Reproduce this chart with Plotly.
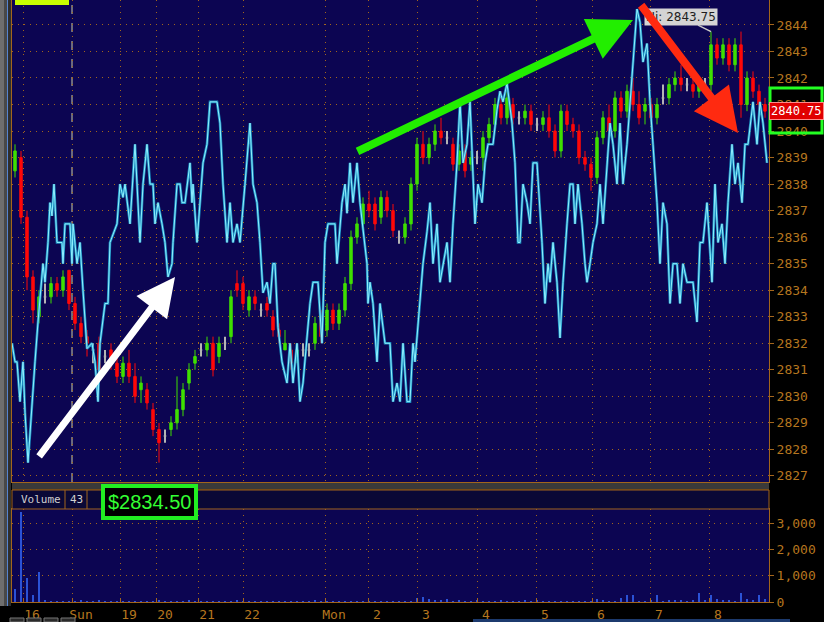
import numpy as np
import plotly.graph_objects as go

# ---------------- data ----------------
opens = [2838.5, 2839.0, 2836.75, 2834.5, 2833.0, 2833.75, 2833.75, 2834.25, 2834.0, 2834.75,
         2833.5, 2832.75, 2832.25, 2831.75, 2832.0, 2831.5, 2831.75, 2831.25, 2830.75, 2831.25,
         2830.75, 2830.25, 2830.25, 2829.5, 2828.75, 2828.5, 2828.75, 2829.0, 2829.5, 2830.5,
         2831.25, 2831.75, 2831.75, 2832.0, 2831.5, 2832.0, 2832.25, 2834.25, 2834.25, 2833.25,
         2833.75, 2833.25, 2833.5, 2833.0, 2832.5, 2831.75, 2831.75, 2831.5, 2831.75, 2831.75,
         2832.0, 2833.0, 2832.5, 2833.25, 2832.75, 2833.25, 2834.25, 2836.0, 2836.5, 2837.25,
         2837.25, 2836.75, 2837.5, 2837.0, 2836.0, 2836.0, 2836.5, 2838.0, 2839.5, 2839.0,
         2839.5, 2840.0, 2839.75, 2839.5, 2838.75, 2839.25, 2838.75, 2839.0, 2839.0, 2839.75,
         2840.25, 2841.0, 2840.5, 2841.0, 2840.5, 2840.5, 2840.75, 2840.25, 2840.25, 2840.5,
         2840.0, 2839.25, 2840.75, 2840.25, 2840.0, 2839.0, 2838.75, 2838.25, 2839.75, 2840.5,
         2840.0, 2841.25, 2840.75, 2841.5, 2841.0, 2840.75, 2841.0, 2840.5, 2841.25, 2841.25,
         2841.75, 2842.0, 2841.75, 2841.75, 2841.5, 2841.75, 2841.75, 2843.25, 2842.75, 2843.25,
         2842.5, 2843.25, 2841.0, 2842.0, 2841.5, 2841.0]
highs = [2839.5, 2839.25, 2837.0, 2834.75, 2834.0, 2834.25, 2834.5, 2834.5, 2834.75, 2834.75,
         2833.75, 2833.0, 2832.5, 2832.0, 2832.25, 2831.75, 2832.0, 2831.5, 2831.5, 2831.75,
         2831.25, 2830.75, 2830.5, 2829.75, 2829.0, 2828.75, 2829.25, 2830.75, 2830.5, 2831.25,
         2831.75, 2832.0, 2832.25, 2832.25, 2832.25, 2832.25, 2834.0, 2834.75, 2834.5, 2834.0,
         2834.0, 2833.5, 2833.75, 2833.25, 2832.75, 2832.5, 2832.0, 2832.0, 2832.0, 2832.0,
         2833.0, 2833.25, 2833.5, 2833.5, 2833.5, 2834.5, 2836.25, 2836.75, 2837.5, 2837.75,
         2837.5, 2837.75, 2837.75, 2837.25, 2836.25, 2836.75, 2838.25, 2839.75, 2840.0, 2839.75,
         2840.25, 2840.5, 2840.0, 2839.75, 2839.5, 2839.5, 2839.25, 2839.25, 2840.0, 2840.5,
         2841.25, 2841.5, 2841.5, 2841.25, 2840.75, 2841.0, 2841.0, 2840.5, 2840.75, 2841.0,
         2840.25, 2841.0, 2841.0, 2840.5, 2840.25, 2839.25, 2839.0, 2840.0, 2840.75, 2841.0,
         2841.5, 2841.5, 2841.75, 2842.0, 2841.5, 2841.25, 2841.25, 2841.25, 2841.75, 2842.0,
         2842.25, 2842.5, 2842.0, 2842.25, 2842.0, 2842.0, 2843.75, 2843.5, 2843.5, 2843.5,
         2843.5, 2843.75, 2842.25, 2842.25, 2841.75, 2841.25]
lows = [2838.25, 2836.5, 2834.0, 2832.75, 2832.75, 2833.5, 2833.5, 2833.75, 2833.75, 2833.25,
        2832.5, 2832.0, 2831.5, 2831.25, 2830.75, 2831.25, 2831.0, 2830.5, 2830.5, 2830.5,
        2829.75, 2829.75, 2829.5, 2828.5, 2827.5, 2828.25, 2828.5, 2828.75, 2829.25, 2830.25,
        2831.0, 2831.5, 2831.5, 2830.75, 2831.25, 2831.75, 2832.0, 2833.75, 2833.25, 2833.0,
        2833.25, 2833.0, 2833.0, 2832.25, 2832.0, 2831.75, 2831.0, 2831.25, 2831.5, 2831.5,
        2831.75, 2832.0, 2832.25, 2832.5, 2832.5, 2833.0, 2834.0, 2835.75, 2836.25, 2836.75,
        2836.25, 2836.5, 2836.75, 2836.0, 2835.75, 2835.75, 2836.25, 2837.75, 2838.75, 2838.75,
        2839.25, 2839.5, 2839.5, 2838.5, 2838.5, 2838.25, 2838.5, 2838.75, 2838.5, 2839.5,
        2840.0, 2840.25, 2840.25, 2840.25, 2840.25, 2840.25, 2840.0, 2840.0, 2840.0, 2839.75,
        2839.0, 2839.0, 2840.0, 2839.75, 2838.75, 2838.5, 2837.75, 2838.0, 2839.5, 2839.75,
        2839.75, 2840.5, 2840.5, 2840.75, 2840.25, 2840.25, 2840.25, 2840.25, 2841.0, 2841.0,
        2841.5, 2841.5, 2841.5, 2841.25, 2841.25, 2841.5, 2841.5, 2842.5, 2842.5, 2842.25,
        2842.25, 2840.5, 2840.75, 2841.25, 2840.75, 2840.5]
closes = [2839.25, 2836.75, 2834.5, 2833.25, 2833.75, 2833.75, 2834.25, 2834.0, 2834.5, 2833.5,
          2832.75, 2832.25, 2832.0, 2831.75, 2831.0, 2831.5, 2831.25, 2830.75, 2831.25, 2830.75,
          2830.0, 2830.5, 2829.75, 2828.75, 2828.25, 2828.5, 2829.0, 2829.5, 2830.25, 2831.0,
          2831.5, 2831.75, 2832.0, 2831.0, 2832.0, 2832.0, 2833.75, 2834.0, 2833.5, 2833.75,
          2833.5, 2833.25, 2833.25, 2832.5, 2832.25, 2832.0, 2831.25, 2831.75, 2831.75, 2831.75,
          2832.75, 2832.25, 2833.25, 2832.75, 2833.25, 2834.25, 2836.0, 2836.5, 2837.25, 2837.0,
          2836.5, 2837.5, 2837.0, 2836.25, 2836.0, 2836.5, 2838.0, 2839.5, 2839.0, 2839.5,
          2840.0, 2839.75, 2839.75, 2838.75, 2839.25, 2838.5, 2839.0, 2839.0, 2839.75, 2840.25,
          2841.0, 2840.5, 2841.25, 2840.5, 2840.5, 2840.75, 2840.25, 2840.25, 2840.5, 2840.0,
          2839.25, 2840.75, 2840.25, 2840.0, 2839.0, 2838.75, 2838.25, 2839.75, 2840.5, 2840.0,
          2841.25, 2840.75, 2841.5, 2841.0, 2840.5, 2841.0, 2840.5, 2841.0, 2841.25, 2841.75,
          2842.0, 2841.75, 2841.75, 2841.5, 2841.75, 2841.75, 2843.25, 2842.75, 2843.25, 2842.5,
          2843.25, 2841.0, 2842.0, 2841.5, 2841.0, 2840.75]
volume = [500, 3400, 900, 250, 1150, 40, 20, 15, 10, 30, 20, 60, 15, 10, 50, 10, 10, 20, 10, 10,
          15, 10, 15, 30, 70, 20, 15, 10, 15, 40, 10, 10, 10, 20, 10, 10, 15, 60, 10, 10,
          10, 15, 10, 10, 10, 10, 15, 10, 10, 10, 60, 10, 10, 20, 10, 20, 10, 10, 10, 10,
          10, 10, 10, 10, 10, 10, 20, 150, 200, 100, 60, 80, 100, 30, 80, 10, 10, 60, 10, 10,
          10, 40, 10, 10, 10, 60, 10, 40, 10, 10, 10, 10, 10, 10, 10, 30, 10, 120, 40, 10,
          10, 150, 250, 250, 10, 20, 80, 250, 20, 60, 40, 80, 30, 60, 330, 40, 250, 100, 60, 80,
          30, 330, 100, 50, 250, 100]

# oscillator overlay (bar time, value)
osc_t = [0, 3, 5, 8, 11, 13, 16, 20, 23, 26, 31, 33, 36, 38, 40, 42, 45, 50, 51, 53,
         58, 60, 61, 65, 68, 71, 75, 80, 83, 86, 88, 93, 96, 98, 105, 108, 111, 113, 118, 123,
         128, 131, 135, 138, 141, 143, 146, 150, 153, 156, 160, 161, 165, 168, 170, 173, 175, 178, 180, 181,
         185, 188, 191, 195, 198, 205, 208, 211, 215, 218, 221, 225, 228, 233, 238, 241, 245, 248, 251, 255,
         258, 261, 263, 266, 270, 275, 278, 281, 285, 288, 291, 298, 301, 306, 310, 313, 316, 323, 325, 330,
         333, 335, 338, 341, 345, 348, 355, 356, 358, 361, 365, 368, 373, 378, 381, 385, 388, 391, 395, 398,
         401, 403, 406, 411, 415, 418, 421, 425, 428, 431, 435, 438, 441, 445, 448, 451, 455, 458, 463, 466,
         470, 473, 476, 481, 485, 488, 491, 495, 500, 503, 506, 508, 511, 515, 518, 521, 525, 530, 533, 536,
         538, 541, 545, 548, 551, 555, 558, 561, 563, 566, 570, 573, 575, 578, 581, 585, 588, 591, 595, 598,
         601, 605, 608, 611, 615, 618, 621, 625, 628, 631, 635, 638, 641, 645, 648, 651, 655, 658, 661, 665,
         668, 671, 675, 678, 681, 685, 688, 691, 695, 700, 703, 706, 710, 713, 716, 720, 723, 726, 730, 733,
         736, 741, 745, 748, 751, 755]
osc_val = [2832.0, 2831.3, 2831.3, 2829.8, 2831.3, 2829.4, 2827.5, 2829.8, 2831.3, 2832.8,
           2835.0, 2834.3, 2835.8, 2837.3, 2836.8, 2838.0, 2835.8, 2835.8, 2835.0, 2836.5,
           2836.5, 2835.0, 2836.5, 2835.0, 2835.8, 2834.0, 2831.8, 2832.0, 2831.3, 2829.8,
           2832.0, 2833.5, 2833.5, 2835.8, 2836.5, 2838.0, 2837.5, 2838.0, 2836.5, 2839.5,
           2835.8, 2838.0, 2839.5, 2838.0, 2838.0, 2836.5, 2837.3, 2836.5, 2835.8, 2834.5,
           2835.0, 2835.8, 2838.0, 2838.0, 2837.3, 2837.3, 2838.0, 2838.8, 2837.3, 2838.0,
           2835.8, 2837.3, 2838.8, 2839.5, 2841.1, 2841.1, 2840.3, 2838.0, 2835.8, 2837.3,
           2835.8, 2836.5, 2835.8, 2838.0, 2840.3, 2838.0, 2837.3, 2835.8, 2833.9, 2834.3,
           2833.5, 2835.0, 2835.0, 2832.6, 2831.3, 2830.5, 2832.0, 2830.5, 2832.0, 2829.8,
           2830.5, 2833.5, 2834.3, 2834.3, 2832.0, 2835.8, 2836.5, 2836.5, 2835.0, 2837.3,
           2838.0, 2836.9, 2838.8, 2837.3, 2838.8, 2837.3, 2835.0, 2833.5, 2834.3, 2833.5,
           2831.3, 2833.5, 2832.0, 2832.0, 2829.8, 2830.5, 2829.8, 2832.0, 2829.8, 2829.8,
           2832.0, 2831.3, 2832.8, 2835.0, 2836.2, 2837.3, 2835.0, 2836.5, 2834.3, 2835.0,
           2835.8, 2834.3, 2836.5, 2838.8, 2841.1, 2838.8, 2839.5, 2841.1, 2836.5, 2838.0,
           2837.3, 2838.8, 2839.5, 2839.5, 2840.8, 2841.5, 2841.1, 2841.8, 2840.3, 2838.8,
           2835.8, 2835.8, 2838.0, 2837.3, 2836.5, 2838.8, 2838.8, 2835.8, 2833.5, 2835.0,
           2834.3, 2835.8, 2834.3, 2832.2, 2834.3, 2836.5, 2838.0, 2838.0, 2836.5, 2838.0,
           2836.5, 2835.0, 2834.3, 2835.0, 2835.8, 2836.5, 2838.0, 2836.5, 2838.8, 2840.3,
           2839.5, 2838.0, 2840.3, 2838.0, 2839.5, 2841.1, 2842.6, 2844.6, 2844.1, 2842.6,
           2843.3, 2841.1, 2839.5, 2837.3, 2835.0, 2837.3, 2836.5, 2833.5, 2835.0, 2835.0,
           2833.5, 2835.0, 2834.3, 2834.3, 2834.3, 2832.8, 2835.8, 2835.8, 2837.3, 2834.3,
           2838.0, 2835.8, 2836.5, 2835.0, 2837.3, 2839.5, 2838.0, 2838.8, 2837.3, 2839.5,
           2839.5, 2841.1, 2839.5, 2841.1, 2840.3, 2838.8]

session_ticks = [11, 60, 108, 144, 186, 231, 313, 356, 405, 465, 524, 580, 638, 697]
session_labels = ["16", "Sun", "19", "20", "21", "22", "Mon", "2", "3", "4", "5", "6", "7", "8"]
price_ticks = list(range(2827, 2845))
vol_ticks = [0, 1000, 2000, 3000]
vol_labels = ["0", "1,000", "2,000", "3,000"]
last_price = 2840.75
session_high = 2843.75
cursor_price = "$2834.50"
vol_count = "43"

# ---------------- styling ----------------
W, H = 824, 622
ORANGE = "#a2651c"
LABEL = "#b5761f"
BG = "#0c0552"
MONO = "DejaVu Sans Mono"
GRIDDASH = "1px,5px"


def px(p):
    return p / W


def py(p):
    return 1 - p / H


candle_t = 3 + 6 * np.arange(len(opens))
doji = np.array([o == c for o, c in zip(opens, closes)])
o, h, l, c = map(np.array, (opens, highs, lows, closes))

fig = go.Figure()

fig.add_trace(go.Candlestick(
    x=candle_t[~doji], open=o[~doji], high=h[~doji], low=l[~doji], close=c[~doji],
    increasing=dict(line=dict(color="#3fe000", width=1), fillcolor="#3fe000"),
    decreasing=dict(line=dict(color="#ff0808", width=1), fillcolor="#ff0808"),
    whiskerwidth=0, showlegend=False, hoverinfo="skip", xaxis="x", yaxis="y"))
fig.add_trace(go.Candlestick(
    x=candle_t[doji], open=o[doji], high=h[doji], low=l[doji], close=c[doji],
    increasing=dict(line=dict(color="#b4b4b4", width=2), fillcolor="#b4b4b4"),
    decreasing=dict(line=dict(color="#b4b4b4", width=2), fillcolor="#b4b4b4"),
    whiskerwidth=0, showlegend=False, hoverinfo="skip", xaxis="x", yaxis="y"))

fig.add_trace(go.Scatter(x=osc_t, y=osc_val, mode="lines",
                         line=dict(color="#1d9ccc", width=2.6), opacity=0.9,
                         showlegend=False, hoverinfo="skip", xaxis="x", yaxis="y"))
fig.add_trace(go.Scatter(x=osc_t, y=osc_val, mode="lines",
                         line=dict(color="#8ff0ff", width=1),
                         showlegend=False, hoverinfo="skip", xaxis="x", yaxis="y"))

fig.add_trace(go.Bar(x=candle_t, y=volume, width=2, marker=dict(color="#2b52d6", line=dict(width=0)),
                     showlegend=False, hoverinfo="skip", xaxis="x2", yaxis="y2"))

xdom = [px(12), px(769)]
common_x = dict(domain=xdom, range=[0, 757], tickvals=session_ticks, showgrid=True,
                gridcolor=ORANGE, griddash=GRIDDASH, gridwidth=1, zeroline=False,
                showline=True, linecolor=ORANGE, mirror=True, fixedrange=True,
                automargin=False)

fig.update_layout(
    width=W, height=H, autosize=False,
    margin=dict(l=0, r=0, t=0, b=0, pad=0),
    paper_bgcolor="#000000", plot_bgcolor=BG,
    boxgap=0.42, bargap=0,
    font=dict(family=MONO, color=LABEL, size=13),
    xaxis=dict(**common_x, anchor="y", showticklabels=False, ticks="",
               rangeslider=dict(visible=False)),
    yaxis=dict(domain=[py(482), 1], range=[2826.77, 2844.94], side="right",
               tickvals=price_ticks, ticks="outside", ticklen=4, tickcolor=ORANGE,
               tickfont=dict(family=MONO, size=13, color=LABEL),
               showgrid=True, gridcolor=ORANGE, griddash=GRIDDASH, zeroline=False,
               showline=True, linecolor=ORANGE, mirror=True, fixedrange=True,
               automargin=False),
    xaxis2=dict(**common_x, anchor="y2", ticktext=session_labels, ticks="inside",
                ticklen=4, tickcolor=ORANGE, ticklabelshift=9,
                tickfont=dict(family=MONO, size=13, color=LABEL)),
    yaxis2=dict(domain=[py(602), py(509)], range=[0, 3532], side="right",
                tickvals=vol_ticks, ticktext=vol_labels, ticks="outside", ticklen=4,
                tickcolor=ORANGE, tickfont=dict(family=MONO, size=13, color=LABEL),
                showgrid=True, gridcolor=ORANGE, griddash=GRIDDASH, zeroline=False,
                showline=True, linecolor=ORANGE, mirror=True, fixedrange=True,
                automargin=False),
)

shapes = [
    # left window strip
    dict(type="rect", xref="paper", yref="paper", x0=0, x1=px(4), y0=py(606), y1=1,
         fillcolor="#6e6e6e", line=dict(width=0), layer="above"),
    dict(type="rect", xref="paper", yref="paper", x0=px(4), x1=px(7), y0=py(606), y1=1,
         fillcolor="#484848", line=dict(width=0), layer="above"),
    dict(type="rect", xref="paper", yref="paper", x0=px(7), x1=px(8), y0=py(606), y1=1,
         fillcolor="#5584d0", line=dict(width=0), layer="above"),
    dict(type="rect", xref="paper", yref="paper", x0=px(8), x1=px(11), y0=py(606), y1=1,
         fillcolor="#2e2e2e", line=dict(width=0), layer="above"),
    # separator between panels
    dict(type="rect", xref="paper", yref="paper", x0=px(12), x1=px(769), y0=py(489), y1=py(483),
         fillcolor="#3a3a3a", line=dict(width=0), layer="above"),
    dict(type="line", xref="paper", yref="paper", x0=px(12), x1=px(769), y0=py(490), y1=py(490),
         line=dict(color=ORANGE, width=1), layer="above"),
    # volume header strip
    dict(type="rect", xref="paper", yref="paper", x0=px(12), x1=px(769), y0=py(509), y1=py(490),
         fillcolor="#0a0836", line=dict(color=ORANGE, width=1), layer="above"),
    dict(type="line", xref="paper", yref="paper", x0=px(65), x1=px(65), y0=py(509), y1=py(490),
         line=dict(color=ORANGE, width=1), layer="above"),
    dict(type="line", xref="paper", yref="paper", x0=px(87), x1=px(87), y0=py(509), y1=py(490),
         line=dict(color=ORANGE, width=1), layer="above"),
    # top-left marker
    dict(type="rect", xref="paper", yref="paper", x0=px(15), x1=px(69), y0=py(5), y1=1,
         fillcolor="#c8ff00", line=dict(width=0), layer="above"),
    # session start dashed line
    dict(type="line", xref="x", yref="paper", x0=session_ticks[1], x1=session_ticks[1],
         y0=py(482), y1=1, line=dict(color="#8c8c8c", width=1.5, dash="dash"), layer="below"),
    # green frame around last price tag
    dict(type="rect", xref="paper", yref="paper", x0=px(770), x1=px(822), y0=py(133), y1=py(88),
         line=dict(color="#22ff22", width=3), layer="above"),
    # scrollbar
    dict(type="rect", xref="paper", yref="paper", x0=px(473), x1=px(790), y0=0, y1=py(619),
         fillcolor="#1c3a6e", line=dict(width=0), layer="above"),
]
for x0 in [10, 27, 44, 61]:
    shapes.append(dict(type="rect", xref="paper", yref="paper", x0=px(x0), x1=px(x0 + 14),
                       y0=0, y1=py(618), fillcolor="#2a2a2a",
                       line=dict(color="#777777", width=1), layer="above"))
fig.update_layout(shapes=shapes)

annotations = [
    dict(x=px(796), y=last_price, xref="paper", yref="y", text=f"{last_price:.2f}",
         xanchor="center", yanchor="middle",
         showarrow=False, bgcolor="#e10000", bordercolor="#ff8a8a", borderwidth=1, borderpad=1,
         font=dict(family=MONO, size=12, color="#ffffff")),
    dict(x=699, y=session_high, xref="x", yref="y", text=f"Hi: {session_high:.2f}",
         showarrow=True, ax=-30, ay=-15, arrowhead=0, arrowwidth=1.5, arrowcolor="#c8c8c8",
         bgcolor="#d4d4d4", borderpad=1, font=dict(family="DejaVu Sans", size=12, color="#1e1e1e")),
    dict(x=px(149), y=py(502), xref="paper", yref="paper", text=cursor_price, showarrow=False,
         xanchor="center", yanchor="middle",
         bgcolor="#000000", bordercolor="#22ee22", borderwidth=4, borderpad=3,
         font=dict(family="Liberation Sans", size=20, color="#33ff33")),
    dict(x=px(19), y=py(499), xref="paper", yref="paper", text="Volume", showarrow=False,
         xanchor="left", yanchor="middle", font=dict(family=MONO, size=11, color="#cfcfcf")),
    dict(x=px(68), y=py(499), xref="paper", yref="paper", text=vol_count, showarrow=False,
         xanchor="left", yanchor="middle", font=dict(family=MONO, size=11, color="#cfcfcf")),
    # trend arrows
    dict(x=163, y=2834.5, ax=26, ay=2827.68, xref="x", yref="y", axref="x", ayref="y",
         text="", showarrow=True, arrowhead=2, arrowsize=1.1, arrowwidth=7, arrowcolor="#ffffff"),
    dict(x=621, y=2844.19, ax=344, ay=2839.21, xref="x", yref="y", axref="x", ayref="y",
         text="", showarrow=True, arrowhead=2, arrowsize=1.1, arrowwidth=8, arrowcolor="#22ee00"),
    dict(x=726, y=2839.93, ax=628, ay=2844.8, xref="x", yref="y", axref="x", ayref="y",
         text="", showarrow=True, arrowhead=2, arrowsize=1.1, arrowwidth=8, arrowcolor="#ff2a10"),
]
fig.update_layout(annotations=annotations)

fig.write_html("out.html",
               config={"displayModeBar": False},
               post_script="document.documentElement.style.margin='0';"
                           "document.body.style.margin='0';"
                           "document.body.style.overflow='hidden';")
